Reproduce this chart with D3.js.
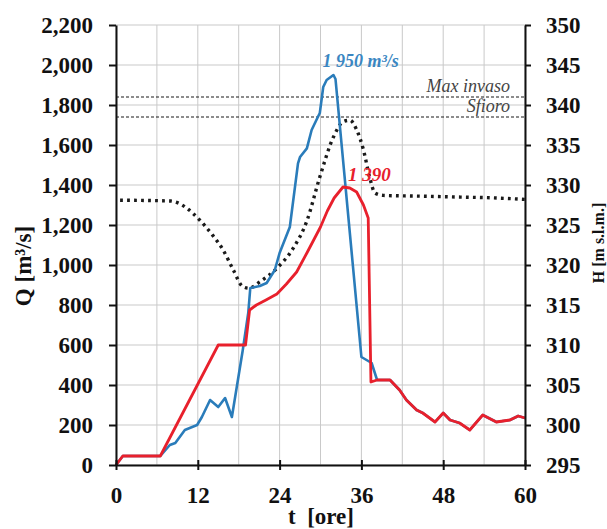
<!DOCTYPE html>
<html>
<head>
<meta charset="utf-8">
<script src="https://cdn.jsdelivr.net/npm/d3@7"></script>
<style>
  html, body { margin: 0; padding: 0; background: #fff; }
  svg { display: block; }
</style>
</head>
<body>
<svg id="chart" width="607" height="529"></svg>
<script>
// Inflow hydrograph (Q in, m³/s)
const inflowT = [0, 1, 6.5, 7.9, 8.7, 10.1, 11.9, 12.6, 13.8, 15, 16, 17, 18.6, 19.4, 19.7, 21.1, 22.1, 23.3, 24, 25.5, 26.7, 27, 28, 28.7, 29.4, 29.9, 30.4, 30.9, 31.9, 32.2, 36, 37.5, 38.3, 40.2, 41.6, 42.6, 44.1, 45, 46.8, 48, 49, 50.4, 51.9, 53.8, 55.8, 57.8, 59, 60];
const inflowQ = [0, 45, 45, 100, 110, 175, 200, 240, 325, 290, 335, 240, 575, 760, 885, 895, 910, 975, 1060, 1190, 1508, 1540, 1583, 1675, 1725, 1760, 1890, 1925, 1950, 1930, 540, 510, 425, 425, 375, 325, 275, 260, 215, 260, 225, 210, 175, 250, 215, 225, 245, 235];

// Outflow hydrograph (Q out, m³/s)
const outflowT = [0, 1, 6.5, 15, 19, 19.6, 20.6, 22, 23.6, 25, 26.5, 28, 30, 31, 32, 33.3, 34.3, 35.3, 36.3, 37, 37.4, 38.3, 40.2, 41.6, 42.6, 44.1, 45, 46.8, 48, 49, 50.4, 51.9, 53.8, 55.8, 57.8, 59, 60];
const outflowQ = [0, 45, 45, 600, 600, 775, 800, 825, 855, 905, 965, 1060, 1190, 1270, 1335, 1390, 1385, 1365, 1300, 1235, 415, 425, 425, 375, 325, 275, 260, 215, 260, 225, 210, 175, 250, 215, 225, 245, 235];

// Reservoir level (H, m s.l.m.)
const levelT = [0.6, 8, 9, 10.4, 12.3, 14.2, 15.7, 17.2, 18.6, 19.5, 21.1, 23.6, 26, 28, 29.9, 31.9, 33.3, 34.3, 35.3, 36.3, 37.2, 38, 39.2, 45, 50, 55, 60];
const levelH = [328.1, 328.0, 327.8, 327.1, 325.6, 323.7, 321.9, 319.4, 317.3, 317.1, 317.9, 319.6, 322.1, 325.5, 331.0, 336.0, 337.9, 338.1, 336.9, 334.4, 331.0, 329.0, 328.7, 328.6, 328.5, 328.4, 328.2];

// Reference levels
const refNames = ["Max invaso", "Sfioro"];
const refLevels = [341, 338.5];

// Peak labels
const peakInText = "1 950 m³/s";
const peakOutText = "1 390";

// Axis ticks
const tTicks = [0, 12, 24, 36, 48, 60];
const tGrid = d3.range(0, 61, 6);
const qTicks = d3.range(0, 2201, 200);
const hTicks = d3.range(295, 351, 5);

const serif = "'Liberation Serif', 'Times New Roman', serif";
const margin = { left: 116, right: 82, top: 25, bottom: 64 };
const W = 607, H = 529;
const svg = d3.select("#chart");

const x = d3.scaleLinear().domain([0, 60]).range([margin.left, W - margin.right]);
const yQ = d3.scaleLinear().domain([0, 2200]).range([H - margin.bottom, margin.top]);
const yH = d3.scaleLinear().domain([295, 350]).range([H - margin.bottom, margin.top]);

// Grid
const grid = svg.append("g").attr("stroke", "#c9c9c9").attr("stroke-width", 1);
grid.selectAll("line.v").data(tGrid).join("line")
  .attr("x1", d => x(d)).attr("x2", d => x(d))
  .attr("y1", yQ(0)).attr("y2", yQ(2200));
grid.selectAll("line.h").data(qTicks).join("line")
  .attr("x1", x(0)).attr("x2", x(60))
  .attr("y1", d => yQ(d)).attr("y2", d => yQ(d));

// Reference level lines
svg.append("g").selectAll("line").data(refLevels).join("line")
  .attr("x1", x(0)).attr("x2", x(60))
  .attr("y1", d => yH(d)).attr("y2", d => yH(d))
  .attr("stroke", "#1a1a1a").attr("stroke-width", 1.2)
  .attr("stroke-dasharray", "3,2");
svg.append("g").selectAll("text").data(refNames).join("text")
  .attr("x", x(60) - 15)
  .attr("y", (d, i) => yH(refLevels[i]) - 5)
  .attr("text-anchor", "end")
  .attr("font-family", serif)
  .attr("font-style", "italic")
  .attr("font-size", 18)
  .attr("fill", "#444")
  .text(d => d);

// Level (dotted)
const lineH = d3.line().x((d, i) => x(levelT[i])).y(d => yH(d)).curve(d3.curveMonotoneX);
svg.append("path").datum(levelH).attr("d", lineH)
  .attr("fill", "none").attr("stroke", "#1a1a1a").attr("stroke-width", 3.4)
  .attr("stroke-dasharray", "2.8,4.2");

// Inflow
const lineIn = d3.line().x((d, i) => x(inflowT[i])).y(d => yQ(d));
svg.append("path").datum(inflowQ).attr("d", lineIn)
  .attr("fill", "none").attr("stroke", "#2a7cba").attr("stroke-width", 2.6)
  .attr("stroke-linejoin", "round");

// Outflow
const lineOut = d3.line().x((d, i) => x(outflowT[i])).y(d => yQ(d));
svg.append("path").datum(outflowQ).attr("d", lineOut)
  .attr("fill", "none").attr("stroke", "#e8202c").attr("stroke-width", 2.8)
  .attr("stroke-linejoin", "round");

// Peak labels
const iIn = d3.maxIndex(inflowQ);
svg.append("text")
  .attr("x", x(inflowT[iIn]) - 11).attr("y", yQ(inflowQ[iIn]) - 8)
  .attr("font-family", serif).attr("font-style", "italic").attr("font-weight", "bold")
  .attr("font-size", 18).attr("fill", "#3a86c2")
  .text(peakInText);
const iOut = d3.maxIndex(outflowQ);
svg.append("text")
  .attr("x", x(outflowT[iOut]) + 5).attr("y", yQ(outflowQ[iOut]) - 6)
  .attr("font-family", serif).attr("font-style", "italic").attr("font-weight", "bold")
  .attr("font-size", 19).attr("fill", "#e8202c")
  .text(peakOutText);

// Axes
const axL = svg.append("g").attr("transform", `translate(${x(0)},0)`)
  .call(d3.axisLeft(yQ).tickValues(qTicks).tickFormat(d3.format(",")).tickSizeInner(7).tickSizeOuter(0).tickPadding(16));
const axR = svg.append("g").attr("transform", `translate(${x(60)},0)`)
  .call(d3.axisRight(yH).tickValues(hTicks).tickSizeInner(6).tickSizeOuter(0).tickPadding(15));
const axB = svg.append("g").attr("transform", `translate(0,${yQ(0)})`)
  .call(d3.axisBottom(x).tickValues(tTicks).tickSizeInner(5).tickSizeOuter(0).tickPadding(17));
axB.selectAll(".tick line").attr("y1", -5);
[axL, axR, axB].forEach(a => {
  a.attr("font-family", serif).attr("font-size", 23).attr("font-weight", "bold");
  a.selectAll(".tick text").attr("fill", "#111");
  a.select(".domain").attr("stroke", "#111").attr("stroke-width", 2);
  a.selectAll(".tick line").attr("stroke", "#111").attr("stroke-width", 2);
});

// Axis titles
svg.append("text")
  .attr("transform", `translate(31,266) rotate(-90)`)
  .attr("text-anchor", "middle")
  .attr("font-family", serif).attr("font-weight", "bold").attr("font-size", 23).attr("fill", "#111")
  .text("Q [m³/s]");
svg.append("text")
  .attr("transform", `translate(604,243) rotate(-90)`)
  .attr("text-anchor", "middle")
  .attr("font-family", serif).attr("font-weight", "bold").attr("font-size", 16).attr("fill", "#111")
  .text("H [m s.l.m.]");
svg.append("text")
  .attr("x", 321).attr("y", 524)
  .attr("text-anchor", "middle")
  .attr("font-family", serif).attr("font-weight", "bold").attr("font-size", 23).attr("fill", "#111")
  .attr("xml:space", "preserve")
  .text("t  [ore]");
</script>
</body>
</html>
